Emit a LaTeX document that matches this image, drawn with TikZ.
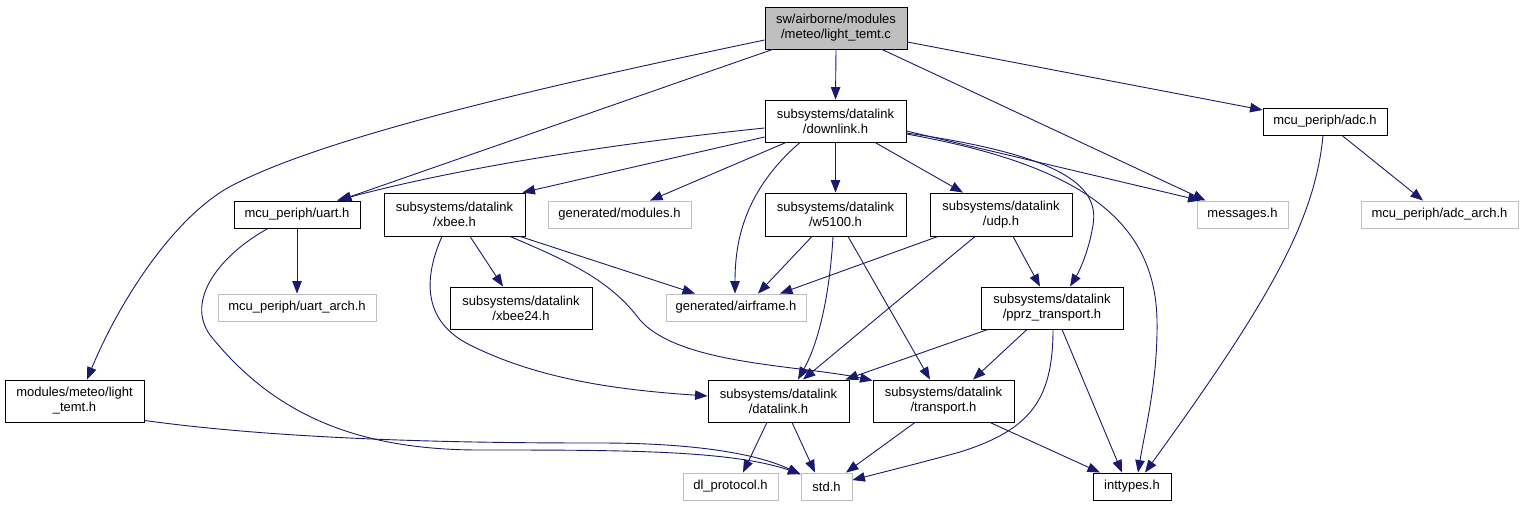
\documentclass[tikz,border=0pt]{standalone}
\usepackage{fontspec}
\setmainfont{Liberation Sans}
\usetikzlibrary{arrows.meta}
\definecolor{edgeblue}{HTML}{191970}
\definecolor{boxgray}{HTML}{BFBFBF}
\tikzset{
  box/.style={draw=black, line width=0.9pt, rectangle, inner sep=0pt, align=center,
    font=\fontsize{13pt}{15pt}\selectfont, fill=white},
  gbox/.style={box, draw=boxgray},
  rootbox/.style={box, fill=boxgray},
  edge/.style={draw=edgeblue, line width=0.9pt, -{Triangle[length=12.5pt,width=9.5pt]}},
}
\begin{document}
\begin{tikzpicture}[x=1pt,y=-1pt]
\useasboundingbox (0,0) rectangle (1523,507);
% nodes
\node[rootbox, minimum width=142pt, minimum height=42pt] (root) at (836,28) {sw/airborne/modules\\/meteo/light\_temt.c};
\node[box, minimum width=141pt, minimum height=42pt] (downlink) at (835.5,121) {subsystems/datalink\\/downlink.h};
\node[box, minimum width=126pt, minimum height=27pt] (uart) at (297,214.5) {mcu\_periph/uart.h};
\node[box, minimum width=141pt, minimum height=43pt] (xbee) at (454.5,214.5) {subsystems/datalink\\/xbee.h};
\node[gbox, minimum width=143pt, minimum height=27pt] (modules) at (619.5,214.5) {generated/modules.h};
\node[box, minimum width=141pt, minimum height=43pt] (w5100) at (835.5,214.5) {subsystems/datalink\\/w5100.h};
\node[box, minimum width=142pt, minimum height=43pt] (udp) at (1001,214.5) {subsystems/datalink\\/udp.h};
\node[gbox, minimum width=91pt, minimum height=27pt] (messages) at (1242.5,214.5) {messages.h};
\node[box, minimum width=124pt, minimum height=27pt] (adc) at (1325,121.5) {mcu\_periph/adc.h};
\node[gbox, minimum width=157pt, minimum height=27pt] (adcarch) at (1439.5,214.5) {mcu\_periph/adc\_arch.h};
\node[gbox, minimum width=158pt, minimum height=27pt] (uartarch) at (297,307.5) {mcu\_periph/uart\_arch.h};
\node[box, minimum width=142pt, minimum height=42pt] (xbeetf) at (521,308) {subsystems/datalink\\/xbee24.h};
\node[gbox, minimum width=140pt, minimum height=27pt] (airframe) at (736,307.5) {generated/airframe.h};
\node[box, minimum width=142pt, minimum height=42pt] (pprz) at (1052,308) {subsystems/datalink\\/pprz\_transport.h};
\node[box, minimum width=139pt, minimum height=42pt] (light) at (74.5,401) {modules/meteo/light\\\_temt.h};
\node[box, minimum width=141pt, minimum height=42pt] (datalink) at (778.5,401) {subsystems/datalink\\/datalink.h};
\node[box, minimum width=141pt, minimum height=42pt] (transport) at (943.5,401) {subsystems/datalink\\/transport.h};
\node[gbox, minimum width=95pt, minimum height=27pt] (dlproto) at (730.5,486.5) {dl\_protocol.h};
\node[gbox, minimum width=51pt, minimum height=27pt] (std) at (826.5,486.5) {std.h};
\node[box, minimum width=78pt, minimum height=27pt] (inttypes) at (1132,486.5) {inttypes.h};
% edges from root
\draw[edge] (root.south) -- (downlink.north);
\draw[edge] ([xshift=8pt]root.south west) -- ([xshift=42pt]uart.north);
\draw[edge] ([yshift=-12pt]root.west) .. controls (550,85) and (330,135) .. (233,185)
  .. controls (175,215) and (120,300) .. ([xshift=12.5pt]light.north);
\draw[edge] ([yshift=-14pt]root.east) -- ([yshift=11.5pt]adc.west);
\draw[edge] ([xshift=46pt]root.south) -- ([xshift=-37pt]messages.north);
% edges from downlink
\draw[edge] ([yshift=-7pt]downlink.west) .. controls (600,145) and (450,170) .. ([xshift=40pt]uart.north);
\draw[edge] ([yshift=-16pt]downlink.west) -- ([xshift=-3pt]xbee.north east);
\draw[edge] ([xshift=-49.5pt]downlink.south) -- ([xshift=30.5pt]modules.north);
\draw[edge] ([xshift=-35.5pt]downlink.south) .. controls (745,190) and (735,240) .. ([xshift=-1pt]airframe.north);
\draw[edge] (downlink.south) -- (w5100.north);
\draw[edge] ([xshift=39.5pt]downlink.south) -- ([xshift=-38pt]udp.north);
\draw[edge] ([yshift=-10pt]downlink.east) -- ([xshift=4pt]messages.north west);
\draw[edge] ([yshift=-12pt]downlink.east) .. controls (1060,155) and (1100,185) .. (1093,225)
  .. controls (1089,250) and (1080,270) .. ([xshift=18pt]pprz.north);
\draw[edge] ([yshift=-13pt]downlink.east) .. controls (1080,165) and (1155,220) .. (1157,320)
  .. controls (1158,380) and (1145,430) .. ([xshift=6pt]inttypes.north);
% uart
\draw[edge] (uart.south) -- (uartarch.north);
\draw[edge] ([xshift=-29pt]uart.south) .. controls (220,255) and (185,300) .. (210,335)
  .. controls (270,410) and (350,450) .. (480,450)
  .. controls (620,450) and (730,450) .. ([yshift=12.5pt]std.west);
% light_temt.h
\draw[edge] ([yshift=2pt]light.south east) .. controls (300,442) and (500,443) .. (600,443)
  .. controls (700,443) and (760,455) .. ([yshift=12pt]std.west);
% xbee
\draw[edge] ([xshift=15.5pt]xbee.south) -- ([xshift=-18pt]xbeetf.north);
\draw[edge] ([xshift=65.5pt]xbee.south) -- ([xshift=-41pt]airframe.north);
\draw[edge] ([xshift=-12.5pt]xbee.south) .. controls (425,275) and (420,320) .. (470,345)
  .. controls (540,380) and (620,390) .. ([yshift=5pt]datalink.west);
\draw[edge] ([xshift=55.5pt]xbee.south) .. controls (570,262) and (610,280) .. (640,320)
  .. controls (680,365) and (800,365) .. ([yshift=-1pt]transport.north west);
% w5100
\draw[edge] ([xshift=-23.5pt]w5100.south) -- ([xshift=22pt]airframe.north);
\draw[edge] ([xshift=-2.5pt]w5100.south) .. controls (830,290) and (820,340) .. ([xshift=19.5pt]datalink.north);
\draw[edge] ([xshift=12.5pt]w5100.south) -- ([xshift=-13.5pt]transport.north);
% udp
\draw[edge] ([xshift=-63pt]udp.south) -- ([xshift=44pt]airframe.north);
\draw[edge] ([xshift=-26pt]udp.south) -- ([xshift=24.5pt]datalink.north);
\draw[edge] ([xshift=12pt]udp.south) -- ([xshift=-12pt]pprz.north);
% pprz
\draw[edge] ([xshift=-64pt]pprz.south) -- ([xshift=-4pt]datalink.north east);
\draw[edge] ([xshift=-25pt]pprz.south) -- ([xshift=29.5pt]transport.north);
\draw[edge] ([xshift=1pt]pprz.south) .. controls (1053,400) and (1030,430) .. (960,452)
  .. controls (920,463) and (880,473) .. ([yshift=6.5pt]std.east);
\draw[edge] ([xshift=10pt]pprz.south) -- ([xshift=-10pt]inttypes.north);
% adc
\draw[edge] ([xshift=17pt]adc.south) -- ([xshift=-16.5pt]adcarch.north);
\draw[edge] ([xshift=-2pt]adc.south) .. controls (1315,220) and (1270,300) .. ([xshift=13pt]inttypes.north);
% datalink
\draw[edge] ([xshift=-11.5pt]datalink.south) -- ([xshift=12.5pt]dlproto.north);
\draw[edge] ([xshift=13.5pt]datalink.south) -- ([xshift=-11.5pt]std.north);
% transport
\draw[edge] ([xshift=-28.5pt]transport.south) -- ([xshift=19.5pt]std.north);
\draw[edge] ([xshift=46.5pt]transport.south) -- ([xshift=-32pt]inttypes.north);
\end{tikzpicture}
\end{document}
